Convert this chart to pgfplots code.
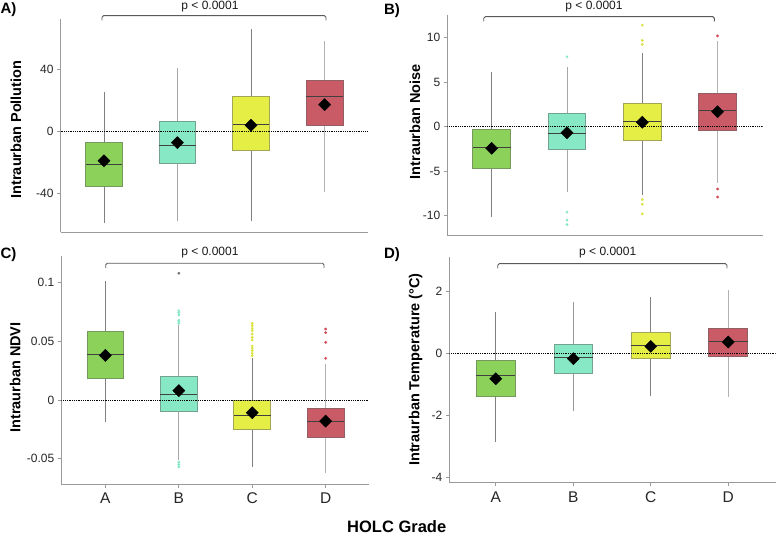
\documentclass[border=0pt]{standalone}
\usepackage{fontspec}
\setmainfont{Liberation Sans}
\usepackage{pgfplots}
\pgfplotsset{compat=1.18}
\usepgfplotslibrary{statistics}

\definecolor{cA}{HTML}{8CD25A}
\definecolor{cB}{HTML}{86E8C4}
\definecolor{cC}{HTML}{E5EE45}
\definecolor{cD}{HTML}{C95B67}
\definecolor{axgray}{HTML}{9A9A9A}
\definecolor{brgray}{HTML}{5A5A5A}

\pgfplotsset{
  panel/.style={scale only axis, anchor=south west,
    axis lines=left, axis line style={-, axgray, line width=0.9pt},
    tick style={axgray, line width=0.8pt}, major tick length=3.5pt, tick align=outside,
    yticklabel style={font=\fontsize{12}{14}\selectfont, text=black!85},
    xticklabel style={font=\fontsize{15.5}{17}\selectfont, text=black!85, yshift=-2pt},
  },
  bx/.style n args={8}{boxplot prepared={draw direction=y, draw position=#1, lower whisker=#2, lower quartile=#3,
      median=#4, upper quartile=#5, upper whisker=#6, box extend=0.5, whisker extend=0,
      every box/.style={draw=#7!60!black!80, fill=#7, line width=0.8pt},
      every whisker/.style={draw=black!#8, line width=0.8pt},
      every median/.style={draw=black!75, line width=0.9pt}}},
  meanmk/.style={only marks, mark=square*, mark size=4.3pt, black, mark options={rotate=45, fill=black}},
  outl/.style={only marks, mark=*, mark size=1.2pt, color=#1, mark options={draw=#1, fill=#1}},
  zeroline/.style={black, densely dotted, line width=0.8pt},
}

\begin{document}
\begin{tikzpicture}
\useasboundingbox (0pt,0pt) rectangle (776pt,536pt);

% ---------------- Panel A ----------------
\begin{axis}[panel, at={(60.5pt,304pt)}, width=307.5pt, height=213pt,
  xmin=0.41, xmax=4.59, ymin=-65.2, ymax=72.3, xtick=\empty,
  ytick={-40,0,40}, yticklabels={-40,0,40}]
\addplot[bx={1}{-59.2}{-35.5}{-21.3}{-7.5}{25.4}{cA}{50}] coordinates {};
\addplot[bx={2}{-58.3}{-20.6}{-9.2}{6.2}{40.4}{cB}{35}] coordinates {};
\addplot[bx={3}{-58.3}{-12.7}{4.5}{22.4}{66.0}{cC}{50}] coordinates {};
\addplot[bx={4}{-39.2}{3.4}{22.4}{32.5}{58.0}{cD}{30}] coordinates {};
\addplot[zeroline] coordinates {(0.41,0) (4.59,0)};
\addplot[meanmk] coordinates {(1,-19.2) (2,-7.5) (3,3.7) (4,17.0)};
\end{axis}

% ---------------- Panel B ----------------
\begin{axis}[panel, at={(447.3pt,300.7pt)}, width=315.4pt, height=220.3pt,
  xmin=0.41, xmax=4.60, ymin=-12.2, ymax=12.55, xtick=\empty,
  ytick={-10,-5,0,5,10}, yticklabels={-10,-5,0,5,10}]
\addplot[bx={1}{-10.2}{-4.68}{-2.32}{-0.26}{6.18}{cA}{50}] coordinates {};
\addplot[bx={2}{-7.3}{-2.55}{-0.75}{1.46}{6.74}{cB}{35}] coordinates {};
\addplot[bx={3}{-7.7}{-1.5}{0.6}{2.6}{8.3}{cC}{50}] coordinates {};
\addplot[bx={4}{-6.3}{-0.37}{1.87}{3.75}{9.6}{cD}{30}] coordinates {};
\addplot[outl=cB] coordinates {(2,7.86) (2,-9.6) (2,-10.5) (2,-11.0)};
\addplot[outl=cC!95!black] coordinates {(3,11.4) (3,9.7) (3,9.25) (3,-8.2) (3,-8.7) (3,-9.8)};
\addplot[outl=cD!85!red] coordinates {(4,10.2) (4,-7.0) (4,-7.9)};
\addplot[zeroline] coordinates {(0.41,0) (4.60,0)};
\addplot[meanmk] coordinates {(1,-2.43) (2,-0.67) (3,0.49) (4,1.69)};
\end{axis}

% ---------------- Panel C ----------------
\begin{axis}[panel, at={(61.3pt,52pt)}, width=307.7pt, height=228pt,
  xmin=0.40, xmax=4.59, ymin=-0.0716, ymax=0.1227,
  xtick={1,2,3,4}, xticklabels={A,B,C,D},
  ytick={-0.05,0,0.05,0.1}, yticklabels={-0.05,0,0.05,0.1}]
\addplot[bx={1}{-0.0185}{0.0185}{0.0386}{0.0585}{0.1014}{cA}{50}] coordinates {};
\addplot[bx={2}{-0.0511}{-0.0094}{0.0051}{0.0199}{0.064}{cB}{35}] coordinates {};
\addplot[bx={3}{-0.057}{-0.025}{-0.013}{0.0}{0.036}{cC}{50}] coordinates {};
\addplot[bx={4}{-0.0625}{-0.0321}{-0.0187}{-0.0071}{0.0307}{cD}{30}] coordinates {};
\addplot[outl=black!55] coordinates {(2,0.108)};
\addplot[outl=cB] coordinates {(2,0.076) (2,0.0744) (2,0.0724) (2,0.068) (2,0.0667) (2,0.0653) (2,-0.053) (2,-0.055) (2,-0.057)};
\addplot[outl=cC!95!black] coordinates {(3,0.0653) (3,0.0633) (3,0.0611) (3,0.0591) (3,0.0562) (3,0.0534) (3,0.0511) (3,0.046) (3,0.044) (3,0.042) (3,0.0398) (3,0.0378)};
\addplot[outl=cD!85!red] coordinates {(4,0.0605) (4,0.0574) (4,0.0491) (4,0.0355)};
\addplot[zeroline] coordinates {(0.40,0) (4.59,0)};
\addplot[meanmk] coordinates {(1,0.038) (2,0.008) (3,-0.0108) (4,-0.018)};
\end{axis}

% ---------------- Panel D ----------------
\begin{axis}[panel, at={(449.3pt,53.7pt)}, width=326.2pt, height=225.3pt,
  xmin=0.40, xmax=4.61, ymin=-4.16, ymax=3.11,
  xtick={1,2,3,4}, xticklabels={A,B,C,D},
  ytick={-4,-2,0,2}, yticklabels={-4,-2,0,2}]
\addplot[bx={1}{-2.85}{-1.38}{-0.71}{-0.215}{1.32}{cA}{50}] coordinates {};
\addplot[bx={2}{-1.85}{-0.645}{-0.13}{0.30}{1.645}{cB}{40}] coordinates {};
\addplot[bx={3}{-1.38}{-0.17}{0.25}{0.68}{1.83}{cC}{50}] coordinates {};
\addplot[bx={4}{-1.40}{-0.086}{0.40}{0.82}{2.06}{cD}{30}] coordinates {};
\addplot[zeroline] coordinates {(0.40,0) (4.61,0)};
\addplot[meanmk] coordinates {(1,-0.82) (2,-0.17) (3,0.226) (4,0.366)};
\end{axis}

% ---------------- annotations ----------------
\tikzset{lbl/.style={font=\bfseries\fontsize{14.5}{16}\selectfont, rotate=90, anchor=center, inner sep=0pt},
  pnl/.style={font=\bfseries\fontsize{15}{17}\selectfont, anchor=center, inner sep=0pt},
  pv/.style={font=\fontsize{12}{14}\selectfont, text=black!90, anchor=center, inner sep=0pt},
  brk/.style={brgray, line width=0.9pt, rounded corners=1.5pt}}

\node[lbl] at (16pt,406.5pt) {Intraurban Pollution};
\node[lbl] at (415pt,414.3pt) {Intraurban Noise};
\node[lbl] at (15.3pt,158.5pt) {Intraurban NDVI};
\node[lbl] at (415.5pt,166.5pt) {Intraurban Temperature (°C)};

\node[pnl] at (8.5pt,526pt) {A)};
\node[pnl] at (392pt,525.5pt) {B)};
\node[pnl] at (8.5pt,281pt) {C)};
\node[pnl] at (392pt,281pt) {D)};

\draw[brk] (102pt,515.5pt) -- (102pt,520.3pt) -- (326pt,520.3pt) -- (326pt,515.5pt);
\node[pv] at (210pt,529pt) {p < 0.0001};
\draw[brk] (483.7pt,514.5pt) -- (483.7pt,519.3pt) -- (714.3pt,519.3pt) -- (714.3pt,514.5pt);
\node[pv] at (594pt,529pt) {p < 0.0001};
\draw[brk] (105.7pt,268pt) -- (105.7pt,272.7pt) -- (324pt,272.7pt) -- (324pt,268pt);
\node[pv] at (210pt,283.5pt) {p < 0.0001};
\draw[brk] (497.7pt,267.5pt) -- (497.7pt,272.3pt) -- (727pt,272.3pt) -- (727pt,267.5pt);
\node[pv] at (607.7pt,283.5pt) {p < 0.0001};

\node[font=\bfseries\fontsize{16.5}{18}\selectfont, anchor=center, inner sep=0pt] at (396.7pt,9pt) {HOLC Grade};
\end{tikzpicture}
\end{document}
